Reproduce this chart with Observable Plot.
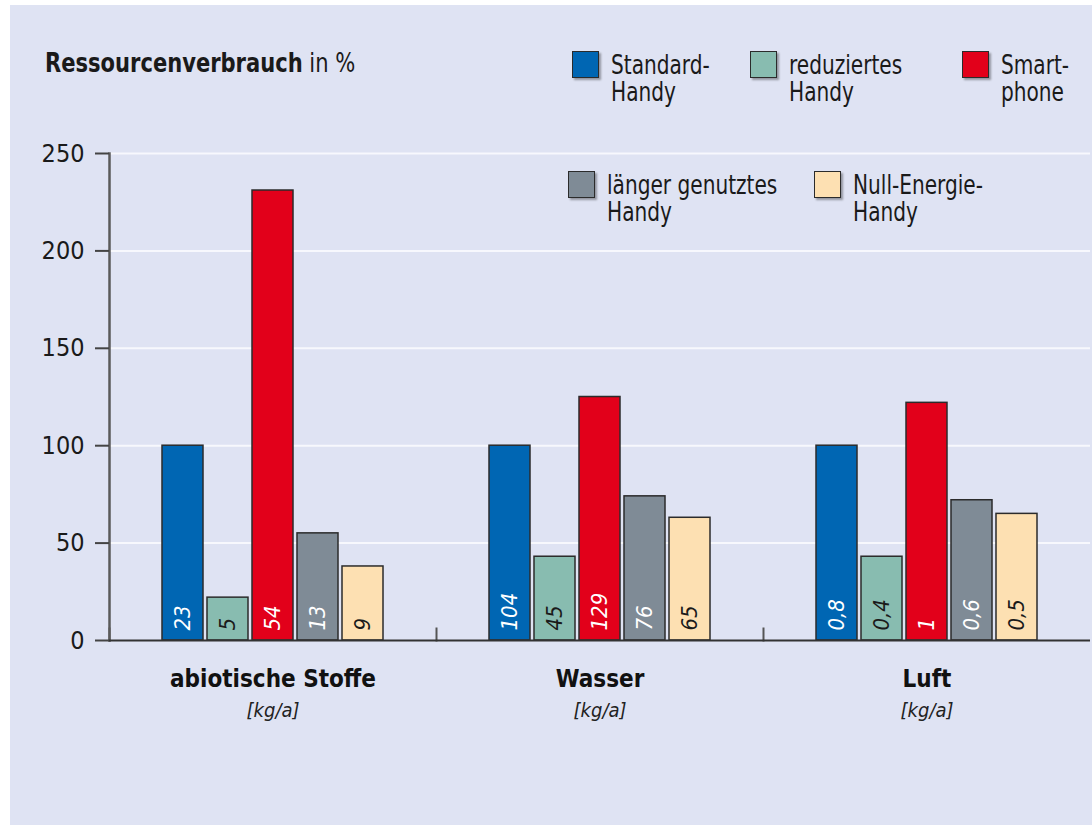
<!DOCTYPE html>
<html>
<head>
<meta charset="utf-8">
<script src="https://cdn.jsdelivr.net/npm/d3@7"></script>
<script src="https://cdn.jsdelivr.net/npm/@observablehq/plot@0.6"></script>
<style>
  html, body { margin: 0; padding: 0; background: #ffffff; }
  #wrap { position: relative; width: 1092px; height: 827px; overflow: hidden;
          font-family: "Liberation Sans Narrow", "DejaVu Sans Condensed", "Roboto Condensed", sans-serif; color: #1a1a1a; }
  #bg { position: absolute; left: 10px; top: 5px; width: 1082px; height: 820px; background: #dfe3f3; }
  #chart { position: absolute; left: 0; top: 0; }
  #title { position: absolute; left: 45px; top: 48px; font-size: 26px; line-height: 30px; white-space: nowrap;
           transform: scaleX(0.9); transform-origin: left top; }
  #title b { font-weight: bold; }
  .leg { position: absolute; display: flex; align-items: flex-start; }
  .sw { width: 25px; height: 25px; border: 1.5px solid #2b2b2b; box-shadow: 2px 2px 2px rgba(0,0,0,0.35); margin-right: 12px; margin-top: 1px; flex: none; }
  .lt { font-size: 26px; line-height: 27px; white-space: pre; margin-top: 2px;
        transform: scaleX(0.86); transform-origin: left top; }
</style>
</head>
<body>
<div id="wrap">
  <div id="bg"></div>
  <div id="chart"></div>
  <div id="title"></div>
  <div id="legend"></div>
</div>
<script>
// ---- data ----
const groups = ["abiotische Stoffe", "Wasser", "Luft"];
const units = ["[kg/a]", "[kg/a]", "[kg/a]"];
const series = ["Standard-Handy", "reduziertes Handy", "Smartphone", "länger genutztes Handy", "Null-Energie-Handy"];
const legendLabels = ["Standard-\nHandy", "reduziertes\nHandy", "Smart-\nphone", "länger genutztes\nHandy", "Null-Energie-\nHandy"];
const pctAbiotisch = [100, 22, 231, 55, 38];
const pctWasser = [100, 43, 125, 74, 63];
const pctLuft = [100, 43, 122, 72, 65];
const absAbiotisch = ["23", "5", "54", "13", "9"];
const absWasser = ["104", "45", "129", "76", "65"];
const absLuft = ["0,8", "0,4", "1", "0,6", "0,5"];
const yTicks = [0, 50, 100, 150, 200, 250];
const titleBold = "Ressourcenverbrauch";
const titleRest = " in %";

// ---- styles ----
const colors = ["#0066b3", "#88bcb0", "#e2001a", "#7f8b96", "#fde0b2"];
const lightLabelSeries = ["Standard-Handy", "Smartphone", "länger genutztes Handy"];
const FONT = '"Liberation Sans Narrow", "DejaVu Sans Condensed", "Roboto Condensed", sans-serif';

const pctRows = [pctAbiotisch, pctWasser, pctLuft];
const absRows = [absAbiotisch, absWasser, absLuft];
const data = [];
groups.forEach((g, gi) => series.forEach((s, si) => {
  data.push({group: g, series: s, pct: pctRows[gi][si], abs: absRows[gi][si]});
}));

const W = 1092, H = 760, mTop = 153, mBottom = 120;
const innerH = H - mTop - mBottom;

const chart = Plot.plot({
  width: W, height: H,
  marginLeft: 108, marginRight: 2, marginTop: mTop, marginBottom: mBottom,
  fx: {domain: groups, padding: 0, label: null, axis: null},
  x: {domain: series, paddingInner: 0.087, paddingOuter: 1.098, axis: null},
  y: {domain: [0, 250], label: null, axis: null},
  color: {domain: series, range: colors},
  style: {background: "transparent", fontFamily: FONT, overflow: "visible", color: "#1a1a1a"},
  marks: [
    Plot.gridY(yTicks.filter(t => t > 0), {stroke: "#f7f8fd", strokeOpacity: 1, strokeWidth: 2}),
    Plot.barY(data, {fx: "group", x: "series", y: "pct", fill: "series", stroke: "#2b2b2b", strokeWidth: 1.5}),
    Plot.text(data, {filter: d => lightLabelSeries.includes(d.series), fx: "group", x: "series", y: 0, text: "abs",
      rotate: -90, textAnchor: "start", lineAnchor: "middle", dy: -10, fill: "#ffffff", fontSize: 22, fontStyle: "italic"}),
    Plot.text(data, {filter: d => !lightLabelSeries.includes(d.series), fx: "group", x: "series", y: 0, text: "abs",
      rotate: -90, textAnchor: "start", lineAnchor: "middle", dy: -10, fill: "#1a1a1a", fontSize: 22, fontStyle: "italic"}),
    Plot.frame({anchor: "left", insetTop: innerH - 12, stroke: "#555", strokeWidth: 2}),
    Plot.frame({anchor: "left", facetAnchor: "left", stroke: "#5a5a5a", strokeWidth: 2.5}),
    Plot.ruleY([0], {stroke: "#333", strokeWidth: 2}),
    Plot.axisY({ticks: yTicks, tickSize: 14, tickPadding: 11, fontSize: 25, label: null, stroke: "#444", strokeWidth: 2, fill: "#1a1a1a"}),
    Plot.axisFx({domain: groups, anchor: "bottom", tickSize: 0, tickPadding: 29, fontSize: 24, fontWeight: "bold", label: null, fill: "#111"}),
    Plot.axisFx({domain: groups, anchor: "bottom", tickSize: 0, tickPadding: 62, fontSize: 20, fontStyle: "italic", label: null, fill: "#222",
      tickFormat: g => units[groups.indexOf(g)]})
  ]
});
document.getElementById("chart").appendChild(chart);

// title
const t = document.getElementById("title");
const b = document.createElement("b"); b.textContent = titleBold;
t.appendChild(b); t.appendChild(document.createTextNode(titleRest));

// legend (HTML, overlays plot like the original)
const legPos = [[572, 50], [750, 50], [962, 50], [568, 170], [814, 170]];
const leg = document.getElementById("legend");
series.forEach((s, i) => {
  const item = document.createElement("div");
  item.className = "leg";
  item.style.left = legPos[i][0] + "px";
  item.style.top = legPos[i][1] + "px";
  const sw = document.createElement("div");
  sw.className = "sw"; sw.style.background = colors[i];
  const lt = document.createElement("div");
  lt.className = "lt"; lt.textContent = legendLabels[i];
  item.appendChild(sw); item.appendChild(lt);
  leg.appendChild(item);
});
</script>
</body>
</html>
